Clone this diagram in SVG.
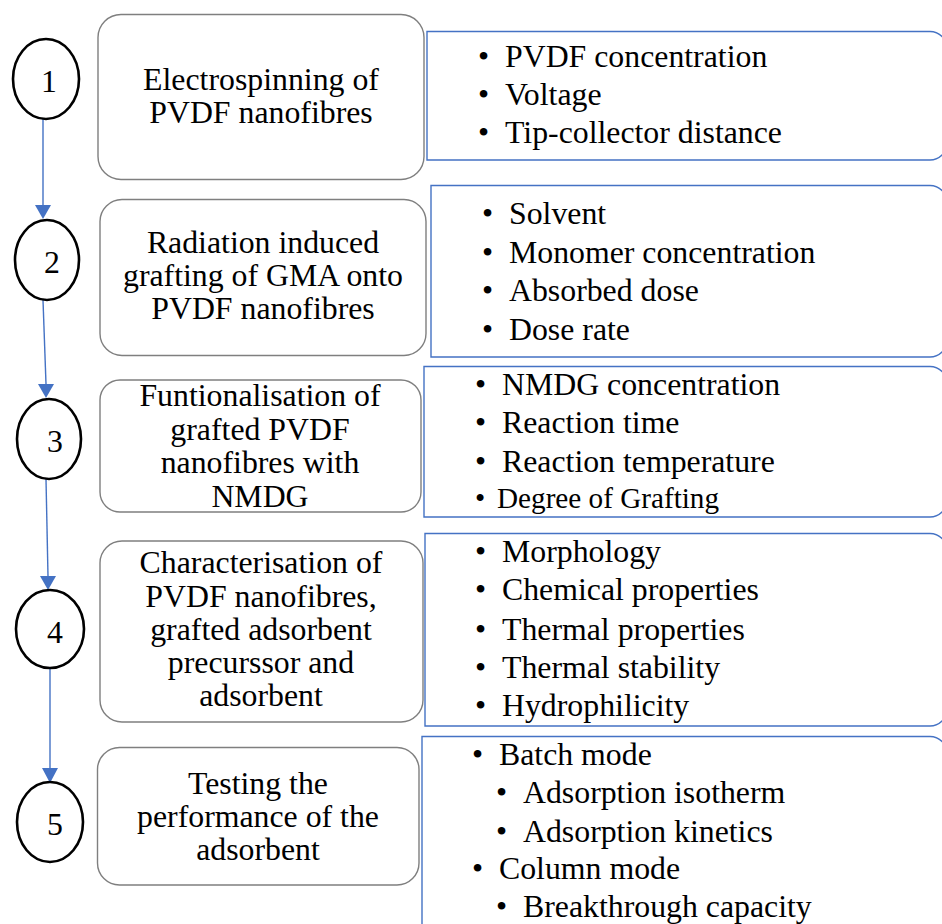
<svg xmlns="http://www.w3.org/2000/svg" width="942" height="924" viewBox="0 0 942 924">
<defs>
<style>
.step{fill:#fff;stroke:#7f7f7f;stroke-width:1.4}
.par{fill:#fff;stroke:#4472C4;stroke-width:1.4}
.num{fill:#fff;stroke:#000;stroke-width:2.6}
.conn{stroke:#4472C4;stroke-width:1.4;fill:none}
.ah{fill:#4472C4}
text{font-family:'Liberation Serif',serif;font-size:31.8px;fill:#000}
.c{text-anchor:middle}
.sm{font-size:29.2px}
</style>
</defs>
<rect width="942" height="924" fill="#fff"/>

<g id="connectors">
<path class="conn" d="M43,118 L43,205"/>
<path class="ah" d="M35,205 L51,205 L43,219 Z"/>
<path class="conn" d="M43,300 L46,384"/>
<path class="ah" d="M38,384 L54,384 L46,398 Z"/>
<path class="conn" d="M46,479 L48,576"/>
<path class="ah" d="M40,576 L56,576 L48,590 Z"/>
<path class="conn" d="M50,668 L50,768"/>
<path class="ah" d="M42,768 L58,768 L50,783 Z"/>
</g>

<g id="c1"><ellipse class="num" cx="46" cy="79" rx="33" ry="40"/><text class="c" x="49" y="92">1</text></g>
<g id="c2"><ellipse class="num" cx="47" cy="260" rx="32" ry="40"/><text class="c" x="52" y="273">2</text></g>
<g id="c3"><ellipse class="num" cx="49" cy="439" rx="32" ry="40"/><text class="c" x="55" y="452">3</text></g>
<g id="c4"><ellipse class="num" cx="50" cy="629" rx="34" ry="39"/><text class="c" x="55" y="643">4</text></g>
<g id="c5"><ellipse class="num" cx="50" cy="822" rx="33" ry="40"/><text class="c" x="55" y="835">5</text></g>

<g id="s1"><rect class="step" x="98" y="14.5" width="326" height="165" rx="23"/>
<text class="c" x="261" y="90">Electrospinning of</text>
<text class="c" x="261" y="123">PVDF nanofibres</text></g>
<g id="s2"><rect class="step" x="100" y="199.5" width="326" height="156" rx="22"/>
<text class="c" x="263" y="253">Radiation induced</text>
<text class="c" x="263" y="286">grafting of GMA onto</text>
<text class="c" x="263" y="319">PVDF nanofibres</text></g>
<g id="s3"><rect class="step" x="100" y="380" width="321" height="132" rx="20"/>
<text class="c" x="260" y="406">Funtionalisation of</text>
<text class="c" x="260" y="440">grafted PVDF</text>
<text class="c" x="260" y="473">nanofibres with</text>
<text class="c" x="260" y="507">NMDG</text></g>
<g id="s4"><rect class="step" x="100" y="541" width="323" height="181" rx="22"/>
<text class="c" x="261" y="573">Characterisation of</text>
<text class="c" x="261" y="607">PVDF nanofibres,</text>
<text class="c" x="261" y="640">grafted adsorbent</text>
<text class="c" x="261" y="673">precurssor and</text>
<text class="c" x="261" y="706">adsorbent</text></g>
<g id="s5"><rect class="step" x="97.5" y="747.5" width="321.5" height="137.5" rx="22"/>
<text class="c" x="258" y="794">Testing the</text>
<text class="c" x="258" y="827">performance of the</text>
<text class="c" x="258" y="860">adsorbent</text></g>

<g id="p1"><path class="par" d="M427,31.5 H930 A17,17 0 0 1 947,48.5 V143 A17,17 0 0 1 930,160 H427 Z"/>
<text x="478" y="67">•</text><text x="505" y="67">PVDF concentration</text>
<text x="478" y="105">•</text><text x="505" y="105">Voltage</text>
<text x="478" y="143">•</text><text x="505" y="143">Tip-collector distance</text></g>
<g id="p2"><path class="par" d="M431,185.5 H930 A17,17 0 0 1 947,202.5 V340 A17,17 0 0 1 930,357 H431 Z"/>
<text x="482" y="224">•</text><text x="509" y="224">Solvent</text>
<text x="482" y="263">•</text><text x="509" y="263">Monomer concentration</text>
<text x="482" y="301">•</text><text x="509" y="301">Absorbed dose</text>
<text x="482" y="340">•</text><text x="509" y="340">Dose rate</text></g>
<g id="p3"><path class="par" d="M424,366.5 H930 A17,17 0 0 1 947,383.5 V500 A17,17 0 0 1 930,517 H424 Z"/>
<text x="475" y="395">•</text><text x="502" y="395">NMDG concentration</text>
<text x="475" y="433">•</text><text x="502" y="433">Reaction time</text>
<text x="475" y="472">•</text><text x="502" y="472">Reaction temperature</text>
<text class="sm" x="475" y="508">•</text><text class="sm" x="497" y="508">Degree of Grafting</text></g>
<g id="p4"><path class="par" d="M425,533.5 H930 A17,17 0 0 1 947,550.5 V709 A17,17 0 0 1 930,726 H425 Z"/>
<text x="475" y="562">•</text><text x="502" y="562">Morphology</text>
<text x="475" y="600">•</text><text x="502" y="600">Chemical properties</text>
<text x="475" y="640">•</text><text x="502" y="640">Thermal properties</text>
<text x="475" y="678">•</text><text x="502" y="678">Thermal stability</text>
<text x="475" y="716">•</text><text x="502" y="716">Hydrophilicity</text></g>
<g id="p5"><path class="par" d="M422,736.5 H930 A17,17 0 0 1 947,753.5 V950 H422 Z"/>
<text x="472" y="765">•</text><text x="499" y="765">Batch mode</text>
<text x="496" y="803">•</text><text x="523" y="803">Adsorption isotherm</text>
<text x="496" y="842">•</text><text x="523" y="842">Adsorption kinetics</text>
<text x="472" y="879">•</text><text x="499" y="879">Column mode</text>
<text x="496" y="917">•</text><text x="523" y="917">Breakthrough capacity</text></g>
</svg>
